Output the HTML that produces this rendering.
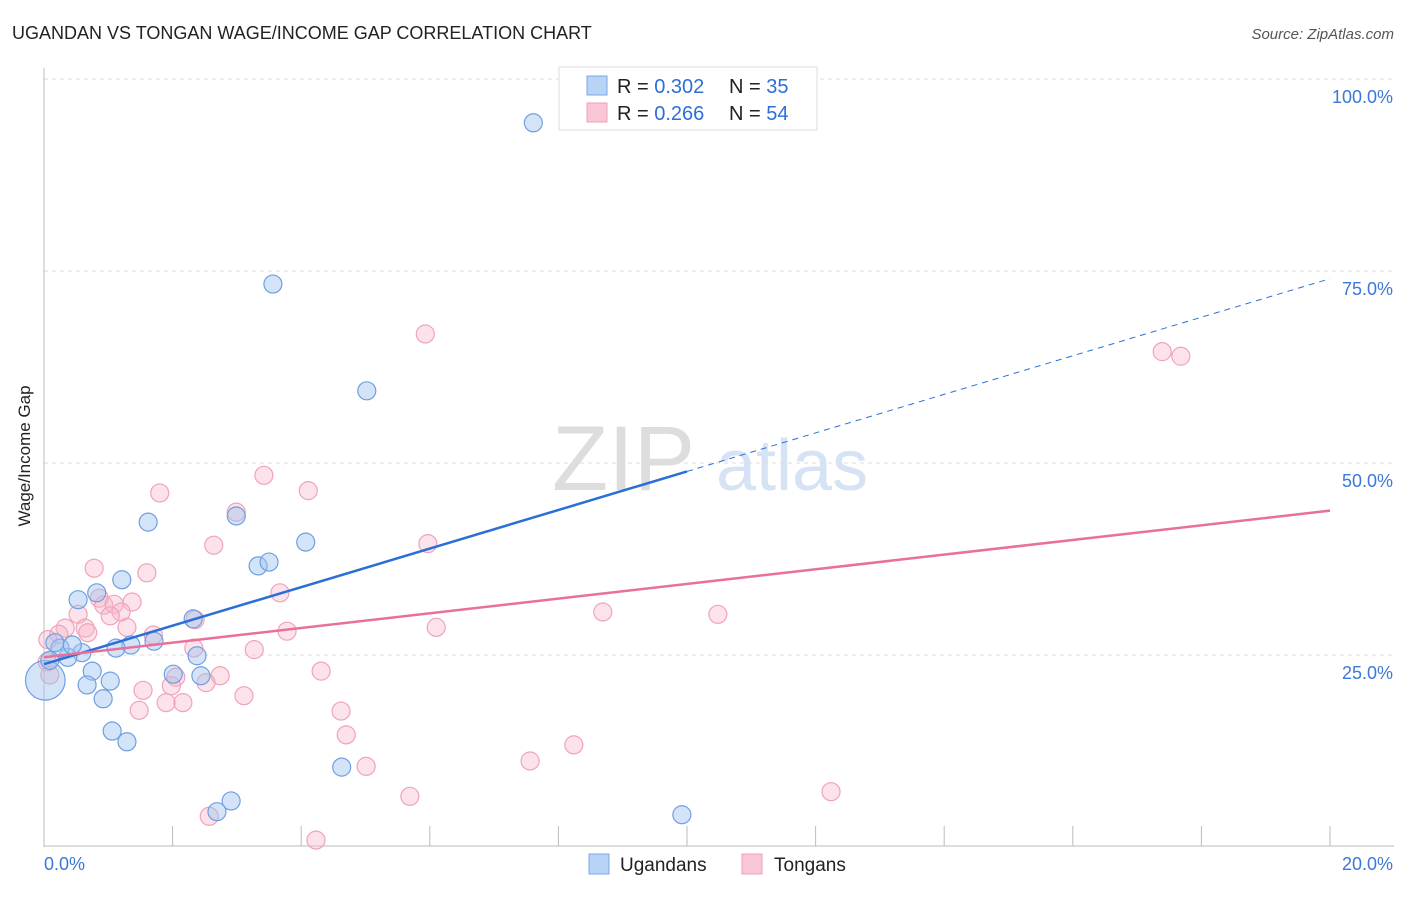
<!DOCTYPE html>
<html><head><meta charset="utf-8"><style>
body{margin:0;background:#fff;font-family:"Liberation Sans",sans-serif}
svg text{font-family:"Liberation Sans",sans-serif}
</style></head><body>
<svg id="c" width="1406" height="892" viewBox="0 0 1406 892">
<text x="12" y="39" font-size="18" fill="#222">UGANDAN VS TONGAN WAGE/INCOME GAP CORRELATION CHART</text>
<text x="1394" y="39" font-size="15" fill="#555" font-style="italic" text-anchor="end">Source: ZipAtlas.com</text>
<text x="30" y="456" font-size="17" fill="#222" transform="rotate(-90 30 456)" text-anchor="middle">Wage/Income Gap</text>
<g>
<text x="552" y="490" font-size="92" fill="#ddd" font-family="Liberation Serif,serif">ZIP</text>
<text x="716" y="490" font-size="72" fill="#d5e3f5">atlas</text>
</g>
<g id="grid"></g><g id="axes"></g><g id="pts"></g><g id="lines"></g>
<g>
<rect x="559" y="67" width="258" height="63" fill="#fff" stroke="#ddd"/>
<rect x="587" y="76" width="20" height="19" fill="#b8d3f5" stroke="#7aa8e6"/>
<rect x="587" y="103" width="20" height="19" fill="#f9c6d6" stroke="#f0a0b8"/>
<text x="617" y="93" font-size="20" fill="#222">R = <tspan fill="#2d6fd6">0.302</tspan></text>
<text x="729" y="93" font-size="20" fill="#222">N = <tspan fill="#2d6fd6">35</tspan></text>
<text x="617" y="120" font-size="20" fill="#222">R = <tspan fill="#2d6fd6">0.266</tspan></text>
<text x="729" y="120" font-size="20" fill="#222">N = <tspan fill="#2d6fd6">54</tspan></text>
</g>
<g>
<rect x="589" y="854" width="20" height="20" fill="#b8d3f5" stroke="#7aa8e6"/>
<text x="620" y="871" font-size="19" fill="#222">Ugandans</text>
<rect x="742" y="854" width="20" height="20" fill="#f9c6d6" stroke="#f0a0b8"/>
<text x="774" y="871" font-size="19" fill="#222">Tongans</text>
</g>
</svg>
<script>
const xTicks=[0,2,4,6,8,10,12,14,16,18,20];
const yTicks=[25,50,75,100];
const yTickLabels=["25.0%","50.0%","75.0%","100.0%"];
const blueX=[7.61,3.56,5.02,1.62,2.99,4.07,3.33,3.50,1.21,0.53,0.82,2.32,1.71,1.35,1.12,0.59,0.37,0.25,0.17,0.44,2.38,0.75,2.01,2.44,1.03,0.67,0.92,1.06,1.29,4.63,2.91,2.69,9.92,0.02,0.09];
const blueY=[94.3,73.3,59.4,42.3,43.1,39.7,36.6,37.1,34.8,32.2,33.1,29.7,26.8,26.3,25.9,25.3,24.7,25.9,26.6,26.3,24.9,22.9,22.5,22.3,21.6,21.1,19.3,15.1,13.7,10.4,6.0,4.6,4.2,21.7,24.3];
const blueSize=[1,1,1,1,1,1,1,1,1,1,1,1,1,1,1,1,1,1,1,1,1,1,1,1,1,1,1,1,1,1,1,1,1,2.2,1];
const pinkX=[5.93,17.39,17.68,3.42,4.11,1.80,2.99,2.64,5.97,0.78,1.60,3.67,1.37,0.86,0.93,1.09,1.20,1.03,0.53,8.69,10.48,6.10,1.29,3.78,0.64,0.33,0.68,0.23,1.70,2.35,0.06,2.33,3.27,4.31,0.05,0.09,2.74,2.05,2.52,1.54,1.98,3.11,1.90,2.16,1.48,4.62,4.70,8.24,7.56,5.01,5.69,12.24,2.57,4.23];
const pinkY=[66.8,64.5,63.9,48.4,46.4,46.1,43.6,39.3,39.5,36.3,35.7,33.1,31.9,32.4,31.5,31.6,30.6,30.1,30.3,30.6,30.3,28.6,28.6,28.1,28.5,28.5,27.9,27.7,27.6,29.6,27.0,25.9,25.7,22.9,24.1,22.4,22.3,22.1,21.4,20.4,21.0,19.7,18.8,18.8,17.8,17.7,14.6,13.3,11.2,10.5,6.6,7.2,4.0,0.9];
const blueTrend=[23.8,74.0];
const blueSolidEnd=10;
const pinkTrend=[24.7,43.8];
const X=v=>44+v*64.3, Y=v=>847-v*7.68;
const NS="http://www.w3.org/2000/svg";
function mk(tag,attrs,parent){const e=document.createElementNS(NS,tag);for(const k in attrs)e.setAttribute(k,attrs[k]);document.getElementById(parent).appendChild(e);return e;}
yTicks.forEach((t,i)=>{
 const g=mk('line',{x1:44,x2:1394,y1:Y(t),y2:Y(t),stroke:'#ddd','stroke-dasharray':'4 4'},'grid');
 
 
 const l=mk('text',{x:1393,y:Y(t)+24,'font-size':18,fill:'#3b78d8','text-anchor':'end'},'grid');
 l.textContent=yTickLabels[i];
 
 
});
mk('line',{x1:44,x2:44,y1:68,y2:847,stroke:'#bbb'},'axes');
const xa=mk('line',{x1:44,x2:1394,y1:846,y2:846,stroke:'#bbb'},'axes');


xTicks.forEach(t=>{const e=mk('line',{x1:X(t),x2:X(t),y1:826,y2:846,stroke:'#bbb'},'axes');
 
 });
const x0=mk('text',{x:44,y:870,'font-size':18,fill:'#3b78d8'},'axes');x0.textContent='0.0%';


const x1=mk('text',{x:1393,y:870,'font-size':18,fill:'#3b78d8','text-anchor':'end'},'axes');x1.textContent='20.0%';


pinkX.forEach((v,i)=>{const c=mk('circle',{cx:X(v),cy:Y(pinkY[i]),r:9,fill:'rgba(248,182,202,0.4)',stroke:'#f0a3bb','stroke-width':1.2},'pts');
 
 });
blueX.forEach((v,i)=>{const c=mk('circle',{cx:X(v),cy:Y(blueY[i]),r:9*blueSize[i],fill:'rgba(160,196,240,0.45)',stroke:'#6f9fe0','stroke-width':1.2},'pts');
 
 });
const bAt=x=>blueTrend[0]+(blueTrend[1]-blueTrend[0])*x/20;
const b1=mk('line',{x1:X(0),y1:Y(bAt(0)),x2:X(blueSolidEnd),y2:Y(bAt(blueSolidEnd)),stroke:'#2a6fd6','stroke-width':2.5},'lines');


const b2=mk('line',{x1:X(blueSolidEnd),y1:Y(bAt(blueSolidEnd)),x2:X(20),y2:Y(bAt(20)),stroke:'#2a6fd6','stroke-width':1,'stroke-dasharray':'6 5'},'lines');


const p1=mk('line',{x1:X(0),y1:Y(pinkTrend[0]),x2:X(20),y2:Y(pinkTrend[1]),stroke:'#e8709a','stroke-width':2.5},'lines');


</script>
</body></html>
